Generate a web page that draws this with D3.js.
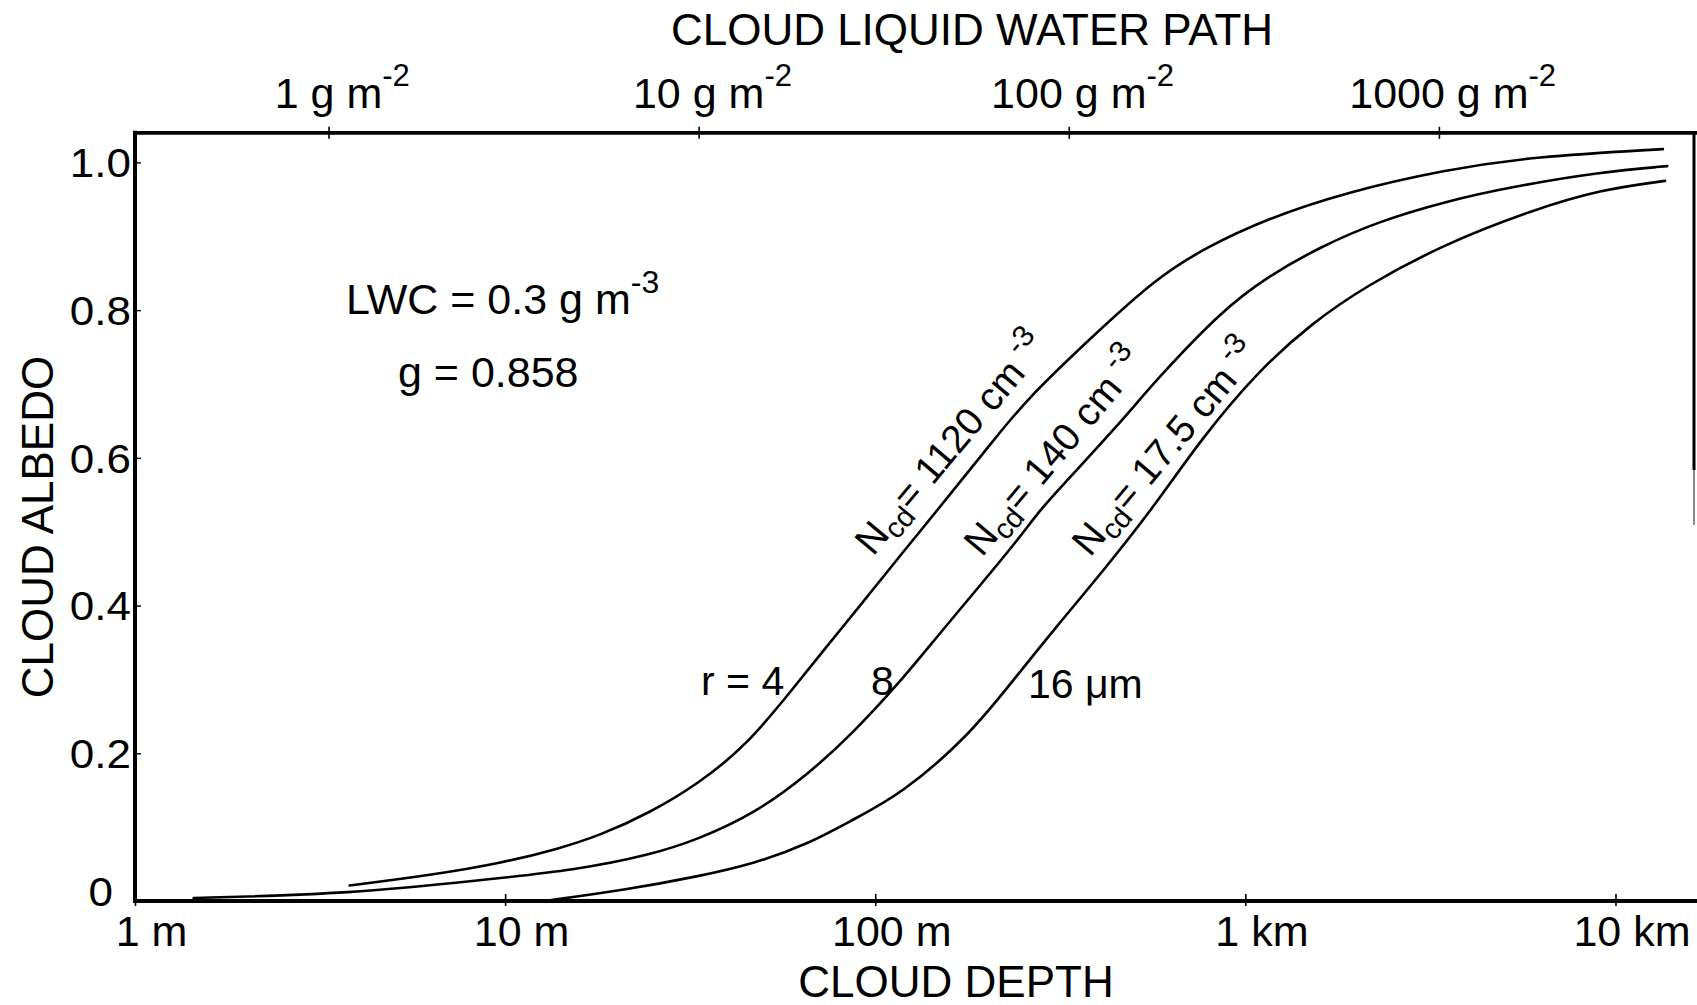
<!DOCTYPE html>
<html>
<head>
<meta charset="utf-8">
<script src="https://cdn.jsdelivr.net/npm/d3@7"></script>
<style>
  html, body { margin: 0; padding: 0; background: #fff; }
  svg { display: block; }
  text { font-family: "Liberation Sans", Arial, Helvetica, sans-serif; fill: #000; }
</style>
</head>
<body>
<svg id="chart" width="1697" height="1005"></svg>
<script>
// Cloud albedo versus cloud depth for three droplet radii (LWC fixed)
const LWC = 0.3; // g m^-3, liquid water path = LWC * depth

// r = 4 um, Ncd = 1120 cm^-3
const depthR4  = [3.80, 6.31, 9.91, 13.8, 18.1, 24.5, 33.1, 44.8, 59.6, 73.8, 93.8, 116, 155, 206, 255, 378, 573, 776, 1145, 1884, 3459, 6012, 13430];
const albedoR4 = [0.021, 0.035, 0.052, 0.070, 0.089, 0.119, 0.158, 0.210, 0.286, 0.344, 0.408, 0.466, 0.543, 0.620, 0.678, 0.760, 0.843, 0.884, 0.924, 0.960, 0.990, 1.008, 1.018];

// r = 8 um, Ncd = 140 cm^-3
const depthR8  = [1.44, 3.89, 8.53, 15.6, 24.5, 33.1, 47.5, 66.4, 86.9, 116, 147, 191, 243, 279, 331, 378, 473, 573, 867, 1145, 1596, 2286, 3459, 5236, 9100, 13800];
const albedoR8 = [0.004, 0.010, 0.028, 0.042, 0.062, 0.083, 0.119, 0.173, 0.227, 0.295, 0.358, 0.426, 0.489, 0.530, 0.570, 0.602, 0.655, 0.705, 0.800, 0.845, 0.886, 0.920, 0.947, 0.967, 0.987, 0.995];

// r = 16 um, Ncd = 17.5 cm^-3
const depthR16  = [12.8, 21.1, 33.1, 47.5, 66.4, 86.9, 117, 178, 237, 308, 410, 571, 755, 1084, 1510, 2104, 3459, 6012, 9100, 13610];
const albedoR16 = [0.000, 0.015, 0.033, 0.051, 0.078, 0.110, 0.144, 0.222, 0.300, 0.371, 0.445, 0.536, 0.624, 0.718, 0.782, 0.832, 0.890, 0.936, 0.963, 0.975];

const radiusLabels = ["r = 4", "8", "16 \u03bcm"];
const ncdLabels = ["1120", "140", "17.5"];

const depthTicks = [1, 10, 100, 1000, 10000];
const depthTickLabels = ["1 m", "10 m", "100 m", "1 km", "10 km"];
const lwpTicks = [1, 10, 100, 1000];
const lwpTickLabels = ["1 g m", "10 g m", "100 g m", "1000 g m"];
const albedoTicks = [0.2, 0.4, 0.6, 0.8, 1.0];

const svg = d3.select("#chart");

// scales
const x = d3.scaleLog().domain([1, 16400]).range([135, 1695]);
const xTop = d3.scaleLog().domain([LWC * 1, LWC * 16400]).range([135, 1695]);
const y = d3.scaleLinear().domain([0, 1]).range([901, 162.4]);
const yTop = y(1.04);

// bottom axis: cloud depth
const gx = svg.append("g").attr("transform", `translate(0,${y(0)})`)
  .call(d3.axisBottom(x).tickValues(depthTicks).tickSize(5)
    .tickFormat((d, i) => depthTickLabels[i]));
gx.select(".domain").remove();
gx.selectAll(".tick line").attr("y1", -7).attr("y2", 5).attr("stroke", "#000").attr("stroke-width", 1.6);
gx.selectAll(".tick text").attr("y", 45).attr("dy", 0).attr("dx", 16)
  .style("font-size", "43px").style("font-family", null);

// top axis: liquid water path
const gt = svg.append("g").attr("transform", `translate(0,${yTop})`)
  .call(d3.axisTop(xTop).tickValues(lwpTicks).tickSize(6).tickFormat(""));
gt.select(".domain").remove();
gt.selectAll(".tick line").attr("y1", -6).attr("y2", 6).attr("stroke", "#000").attr("stroke-width", 1.6);

lwpTicks.forEach((v, i) => {
  const t = svg.append("text").attr("y", 108).style("font-size", "43px");
  t.append("tspan").text(lwpTickLabels[i]);
  const w = t.node().getComputedTextLength();
  t.attr("x", xTop(v) - w / 2);
  t.append("tspan").attr("dy", -22).style("font-size", "31px").text("-2");
});

// left axis: albedo
const gy = svg.append("g").attr("transform", `translate(${x(1)},0)`)
  .call(d3.axisLeft(y).tickValues(albedoTicks).tickSize(-6).tickPadding(4)
    .tickFormat(d3.format(".1f")));
gy.select(".domain").remove();
gy.selectAll(".tick line").attr("stroke", "#000").attr("stroke-width", 1.4);
gy.selectAll(".tick text")
  .attr("x", -4 / 1.1).attr("dy", "0.36em")
  .attr("transform", "scale(1.1,1)")
  .style("font-size", "40px").style("font-family", null);

svg.append("text")
  .attr("transform", "translate(113,906) scale(1.1,1)")
  .attr("text-anchor", "end")
  .style("font-size", "40px")
  .text("0");

// frame
const frame = svg.append("g").attr("stroke", "#000").attr("fill", "none");
frame.append("line").attr("x1", x(1)).attr("x2", x(1)).attr("y1", yTop - 2).attr("y2", y(0) + 2).attr("stroke-width", 4);
frame.append("line").attr("x1", x(1) - 2).attr("x2", 1697).attr("y1", y(0)).attr("y2", y(0)).attr("stroke-width", 4);
frame.append("line").attr("x1", x(1) - 2).attr("x2", 1697).attr("y1", yTop).attr("y2", yTop).attr("stroke-width", 3.6);
// right edge of the frame, fading out partway down
frame.append("line").attr("x1", 1694).attr("x2", 1694).attr("y1", yTop - 1).attr("y2", 470).attr("stroke-width", 3);
frame.append("line").attr("x1", 1694).attr("x2", 1694).attr("y1", 470).attr("y2", 525)
  .attr("stroke-width", 2).attr("stroke-opacity", 0.45);

// curves
const series = [
  d3.zip(depthR4, albedoR4),
  d3.zip(depthR8, albedoR8),
  d3.zip(depthR16, albedoR16)
];
const line = d3.line().x(d => x(d[0])).y(d => y(d[1])).curve(d3.curveBasis);
svg.append("g").selectAll("path").data(series).join("path")
  .attr("d", line)
  .attr("fill", "none").attr("stroke", "#000").attr("stroke-width", 2.6)
  .attr("stroke-linecap", "round");

// axis titles
svg.append("text").attr("x", 972).attr("y", 45).attr("text-anchor", "middle")
  .style("font-size", "44px").text("CLOUD LIQUID WATER PATH");
svg.append("text").attr("x", 956).attr("y", 997).attr("text-anchor", "middle")
  .style("font-size", "44px").text("CLOUD DEPTH");
svg.append("text").attr("transform", "translate(53,527) rotate(-90)").attr("text-anchor", "middle")
  .style("font-size", "44px").text("CLOUD ALBEDO");

// fixed parameters
const lwc = svg.append("text").attr("x", 346).attr("y", 314).style("font-size", "43px");
lwc.append("tspan").text("LWC = 0.3 g m");
lwc.append("tspan").attr("dy", -21).style("font-size", "32px").text("-3");
svg.append("text").attr("x", 398).attr("y", 387).style("font-size", "43px").text("g = 0.858");

// droplet radius labels
const rPos = [[701, 695], [871, 695], [1028, 698]];
radiusLabels.forEach((s, i) => {
  svg.append("text").attr("x", rPos[i][0]).attr("y", rPos[i][1]).style("font-size", "41px").text(s);
});

// droplet number labels along the curves
const nPos = [[873, 557], [982, 558], [1090, 558]];
ncdLabels.forEach((s, i) => {
  const t = svg.append("text")
    .attr("transform", `translate(${nPos[i][0]},${nPos[i][1]}) rotate(-50)`)
    .style("font-size", "39px");
  t.append("tspan").text("N");
  t.append("tspan").attr("dy", 8).style("font-size", "29px").text("cd");
  t.append("tspan").attr("dy", -8).text("= " + s + " cm");
  t.append("tspan").attr("dy", -17).style("font-size", "30px").text(" -3");
});
</script>
</body>
</html>
